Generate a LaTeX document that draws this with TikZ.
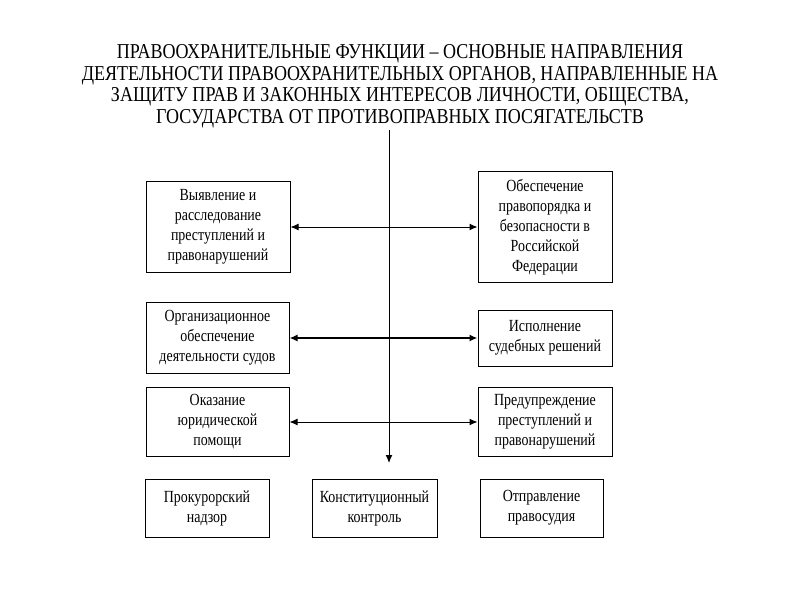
\documentclass[tikz,border=0pt]{standalone}
\usepackage{fontspec}
\setmainfont{Liberation Serif}
\newfontfamily\narrowtitle{Liberation Serif}[FakeStretch=0.85]
\newfontfamily\narrowbox{Liberation Serif}[FakeStretch=0.82]
\usetikzlibrary{arrows.meta}
\begin{document}
\begin{tikzpicture}[x=0.5pt,y=-0.5pt,
  box/.style={draw=black,line width=0.5pt,fill=white,align=center,inner sep=1pt,
    font=\narrowbox\fontsize{8.5}{10}\selectfont},
  conn/.style={line width=0.5pt,{Latex[length=4pt,width=3.5pt]}-{Latex[length=4pt,width=3.5pt]}},
  thick conn/.style={line width=1pt,{Latex[length=4pt,width=3.5pt]}-{Latex[length=4pt,width=3.5pt]}},
  down/.style={line width=0.5pt,-{Latex[length=4pt,width=3.5pt]}}]
\useasboundingbox[fill=white] (0,0) rectangle (800,600);
\node[align=center,font=\narrowtitle\fontsize{10.6}{10.75}\selectfont] (title) at (400,86)
 {ПРАВООХРАНИТЕЛЬНЫЕ ФУНКЦИИ – ОСНОВНЫЕ НАПРАВЛЕНИЯ\\
  ДЕЯТЕЛЬНОСТИ ПРАВООХРАНИТЕЛЬНЫХ ОРГАНОВ, НАПРАВЛЕННЫЕ НА\\
  ЗАЩИТУ ПРАВ И ЗАКОННЫХ ИНТЕРЕСОВ ЛИЧНОСТИ, ОБЩЕСТВА,\\
  ГОСУДАРСТВА ОТ ПРОТИВОПРАВНЫХ ПОСЯГАТЕЛЬСТВ};
\node[box,minimum width=72pt,minimum height=45.5pt] (b1) at (218,227)
 {Выявление и\\расследование\\преступлений и\\правонарушений};
\node[box,minimum width=67pt,minimum height=55.5pt] (b2) at (545,227)
 {Обеспечение\\правопорядка и\\безопасности в\\Российской\\Федерации};
\node[box,minimum width=71.5pt,minimum height=35.5pt] (b3) at (217.5,338)
 {Организационное\\обеспечение\\деятельности судов};
\node[box,minimum width=67pt,minimum height=28pt] (b4) at (545,338)
 {Исполнение\\судебных решений};
\node[box,minimum width=71.5pt,minimum height=34.5pt] (b5) at (217.5,422)
 {Оказание\\юридической\\помощи};
\node[box,minimum width=67pt,minimum height=34.5pt] (b6) at (545,422)
 {Предупреждение\\преступлений и\\правонарушений};
\node[box,minimum width=62pt,minimum height=29pt] (b7) at (207,508)
 {Прокурорский\\надзор};
\node[box,minimum width=62.5pt,minimum height=29pt] (b8) at (374.5,508)
 {Конституционный\\контроль};
\node[box,minimum width=61.5pt,minimum height=29pt] (b9) at (541.5,508)
 {Отправление\\правосудия};
\coordinate (vtop) at (389,130);
\coordinate (vend) at (389,463);
\draw[down] (vtop) -- (vend);
\draw[conn] (b1.east) -- (b1.east -| b2.west);
\draw[thick conn] (b3.east) -- (b3.east -| b4.west);
\draw[conn] (b5.east) -- (b5.east -| b6.west);
\end{tikzpicture}
\end{document}
